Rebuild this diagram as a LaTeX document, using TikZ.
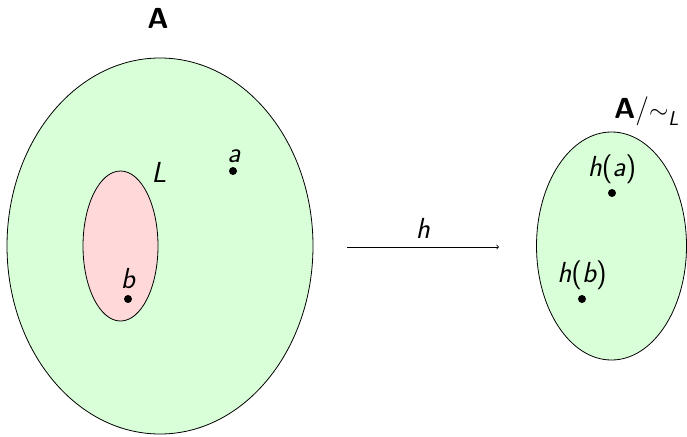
\documentclass[tikz,border=0pt]{standalone}
\usepackage{fontspec}
\usetikzlibrary{shapes.geometric}
\definecolor{setgreen}{RGB}{217,255,217}
\definecolor{setred}{RGB}{255,217,217}
\tikzset{
  setshape/.style={ellipse, draw=black, line width=0.8pt, inner sep=0pt},
  elem/.style={circle, fill=black, inner sep=0pt, minimum size=8pt},
  lbl/.style={anchor=base, inner sep=0pt, font=\fontsize{29}{34}\selectfont\sffamily},
  maparrow/.style={->, line width=0.8pt}
}
\begin{document}
\begin{tikzpicture}[x=1pt,y=-1pt]
\useasboundingbox (0,0) rectangle (687,436);
% sets
\node[setshape, fill=setgreen, minimum width=306pt, minimum height=376pt] (bigA) at (160,246) {};
\node[setshape, fill=setred, minimum width=75pt, minimum height=150pt] (setL) at (120.5,246) {};
\node[setshape, fill=setgreen, minimum width=150pt, minimum height=228pt] (quot) at (611.5,246) {};
% labels
\node[lbl] (labA) at (158,29) {\bfseries A};
\node[lbl] (labL) at (159,182) {\itshape L};
\node[lbl] (laba) at (234,162) {\itshape a};
\node[lbl] (labb) at (128,288) {\itshape b};
\node[lbl] (labha) at (612,176) {{\itshape h}({\itshape a})};
\node[lbl] (labhb) at (582,282) {{\itshape h}({\itshape b})};
\node[lbl, anchor=base west] (labQ) at (614,118) {{\bfseries A}/$\sim$\raisebox{-0.25em}{\fontsize{20}{24}\selectfont\itshape L}};
% elements
\node[elem] (pa) at (233,171) {};
\node[elem] (pb) at (128,299) {};
\node[elem] (pha) at (612,193) {};
\node[elem] (phb) at (582,299) {};
% map
\coordinate (arrS) at (347,247);
\coordinate (arrE) at (499,247);
\draw[maparrow] (arrS) -- (arrE);
\node[lbl] (labh) at (423,238) {\itshape h};
\end{tikzpicture}
\end{document}
